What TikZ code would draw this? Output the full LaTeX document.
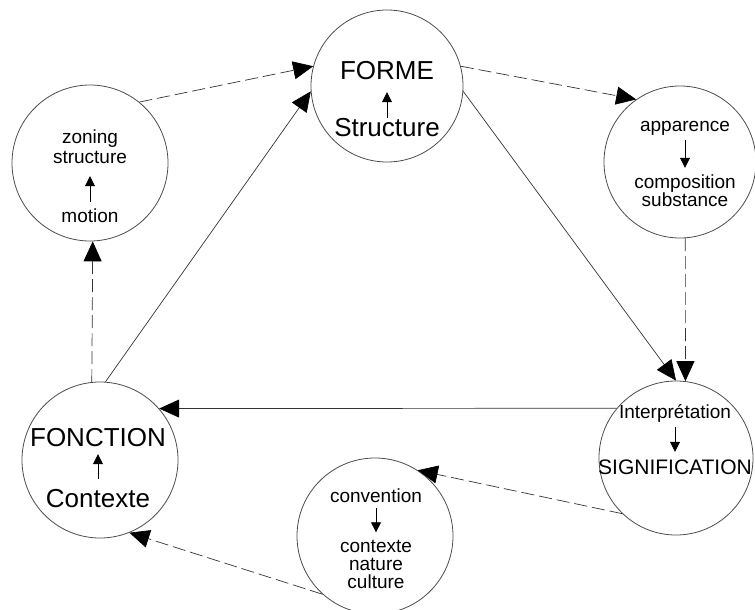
\documentclass[tikz,border=0pt]{standalone}
\usepackage{fontspec}
\setmainfont{Liberation Sans}
\usetikzlibrary{arrows.meta}

\begin{document}
\begin{tikzpicture}[x=1pt,y=-1pt,
  ring/.style={circle,draw=black!70,line width=0.8pt,inner sep=0pt,minimum size=#1},
  big/.style={inner sep=0pt,font=\fontsize{26}{26}\selectfont,text height=18.6pt,text depth=0pt},
  mid/.style={inner sep=0pt,font=\fontsize{21}{21}\selectfont,text height=15pt,text depth=0pt},
  small/.style={inner sep=0pt,font=\fontsize{19}{19}\selectfont,text height=12.5pt,text depth=3.5pt},
  link/.style={draw=black!80,line width=0.7pt,-{Triangle[length=20pt,width=18pt,color=black]}},
  dlink/.style={link,dash pattern=on 13pt off 5pt},
  inner/.style={draw=black,line width=0.8pt,-{Triangle[length=10pt,width=10pt]}},
]
\useasboundingbox (0,0) rectangle (755,610);

% the six circles
\node[ring=152pt] (frm) at (387,86) {};
\node[ring=156pt] (zon) at (90,163) {};
\node[ring=152pt] (app) at (680,162) {};
\node[ring=154pt] (sig) at (676,458) {};
\node[ring=156pt] (fon) at (100,460) {};
\node[ring=156pt] (vcn) at (375,536) {};

% FORME / Structure
\node[big] (forme) at (387,70) {FORME};
\node[big] (structure) at (387,127.5) {Structure};
\draw[inner,shorten >=12.7pt] (structure.north) -- (forme.south);

% zoning structure / motion
\node[small] (zoning) at (90,138.5) {zoning};
\node[small] (zstruct) at (90,158.5) {structure};
\node[small] (motion) at (90,217.5) {motion};
\draw[inner,shorten <=7.5pt,shorten >=9.5pt] (motion.north) -- (zstruct.south);

% apparence / composition substance
\node[small] (apparence) at (685,126.5) {apparence};
\node[small] (composition) at (685,183.5) {composition};
\node[small] (substance) at (685,201.5) {substance};
\draw[inner,shorten <=5.5pt,shorten >=7.5pt] (apparence.south) -- (composition.north);

% Interpretation / SIGNIFICATION
\node[small] (interp) at (675,413.5) {Interprétation};
\node[mid] (signif) at (675,466.5) {SIGNIFICATION};
\draw[inner,shorten <=5.5pt,shorten >=7pt] (interp.south) -- (signif.north);

% FONCTION / Contexte
\node[big] (fonction) at (98,437) {FONCTION};
\node[big] (contexte) at (98,498) {Contexte};
\draw[inner,shorten <=9.7pt,shorten >=7.7pt] (contexte.north) -- (fonction.south);

% convention / contexte nature culture
\node[small] (convention) at (376,497.5) {convention};
\node[small] (ctx) at (376,548) {contexte};
\node[small] (nature) at (376,566) {nature};
\node[small] (culture) at (376,584) {culture};
\draw[inner,shorten <=2.5pt,shorten >=7.5pt] (convention.south) -- (ctx.north);

% links between the circles
\draw[dlink] (zon.51) -- (frm.165);
\draw[link] (fon.86) -- (frm.184);
\draw[dlink] (frm.15) -- (app.125);
\draw[link] (frm.-4) -- (sig.90);
\draw[dlink] (app.-86) -- (sig.83);
\draw[link] (sig.140.5) -- (fon.41);
\draw[dlink] (sig.226) -- (vcn.57);
\draw[dlink] (vcn.228) -- (fon.-68);
\draw[dlink] (fon.96) -- (zon.-88.5);
\end{tikzpicture}
\end{document}
